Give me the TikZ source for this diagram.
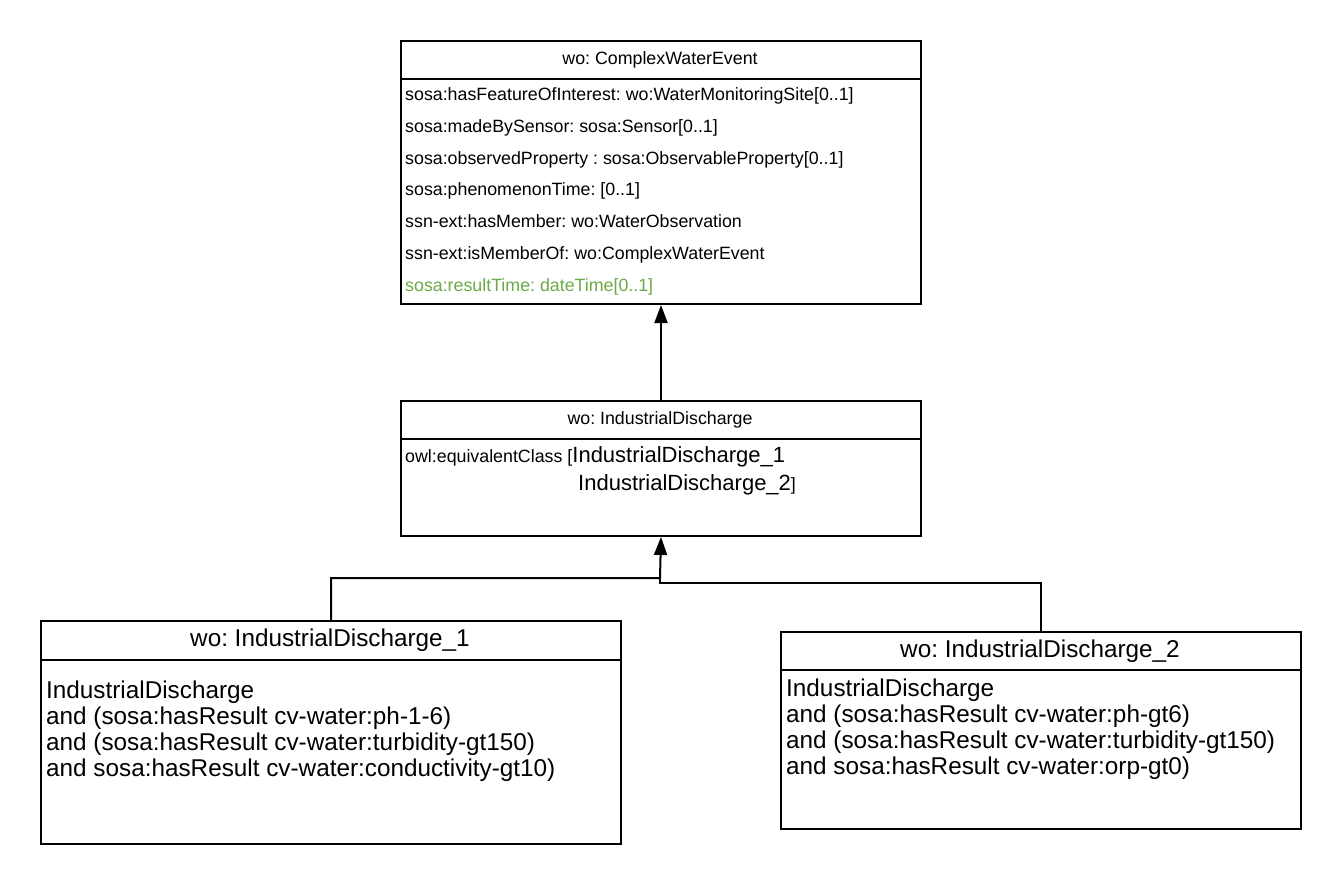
\documentclass[tikz,border=0pt]{standalone}
\usepackage{fontspec}
\setmainfont{Liberation Sans}
\usetikzlibrary{arrows.meta}
\definecolor{rtgreen}{RGB}{108,170,72}
\newcommand{\fsS}{\fontsize{17.8}{21}\selectfont}
\newcommand{\fsM}{\fontsize{22}{26}\selectfont}
\newcommand{\fsL}{\fontsize{24.3}{26}\selectfont}
\frenchspacing
\begin{document}
\begin{tikzpicture}[x=1pt,y=-1pt,
 box/.style={draw, line width=2pt, anchor=north west, inner sep=0pt},
 lbl/.style={anchor=base west, inner sep=0pt},
 ttl/.style={anchor=base, inner sep=0pt},
 conn/.style={line width=2pt},
 gen/.style={line width=2pt, -{Triangle[length=18pt,width=13pt]}}]
\useasboundingbox (0,0) rectangle (1340,884);
\fill[white] (0,0) rectangle (1340,884);

% top class
\node[box, minimum width=520pt, minimum height=263pt] (cwe) at (400,40) {};
\draw[conn] (cwe.north west) ++(0,39) -- ++(520,0);
\node[ttl, font=\fsS] (cwet) at (660,64) {wo: ComplexWaterEvent};
\node[lbl, font=\fsS] (r1) at (405,100) {sosa:hasFeatureOfInterest: wo:WaterMonitoringSite[0..1]};
\node[lbl, font=\fsS] (r2) at (405,132) {sosa:madeBySensor: sosa:Sensor[0..1]};
\node[lbl, font=\fsS] (r3) at (405,164) {sosa:observedProperty : sosa:ObservableProperty[0..1]};
\node[lbl, font=\fsS] (r4) at (405,195) {sosa:phenomenonTime: [0..1]};
\node[lbl, font=\fsS] (r5) at (405,227) {ssn-ext:hasMember: wo:WaterObservation};
\node[lbl, font=\fsS] (r6) at (405,259) {ssn-ext:isMemberOf: wo:ComplexWaterEvent};
\node[lbl, font=\fsS, text=rtgreen] (r7) at (405,291) {sosa:resultTime: dateTime[0..1]};

% middle class
\node[box, minimum width=520pt, minimum height=135pt] (mid) at (400,400) {};
\draw[conn] (mid.north west) ++(0,39) -- ++(520,0);
\node[ttl, font=\fsS] (midt) at (660,424) {wo: IndustrialDischarge};
\node[lbl] (m1) at (405,462) {{\fsS owl:equivalentClass [}{\fsM IndustrialDischarge\_1}};
\node[lbl] (m2) at (578,490) {{\fsM IndustrialDischarge\_2}{\fsS ]}};

% bottom-left class
\node[box, minimum width=580pt, minimum height=223pt] (b1) at (40,620) {};
\draw[conn] (b1.north west) ++(0,40) -- ++(580,0);
\node[ttl, font=\fsL] (b1t) at (330,646) {wo: IndustrialDischarge\_1};
\node[lbl, font=\fsL] (b1a) at (46,698) {IndustrialDischarge};
\node[lbl, font=\fsL] (b1b) at (46,724) {and (sosa:hasResult cv-water:ph-1-6)};
\node[lbl, font=\fsL] (b1c) at (46,750) {and (sosa:hasResult cv-water:turbidity-gt150)};
\node[lbl, font=\fsL] (b1d) at (46,776) {and sosa:hasResult cv-water:conductivity-gt10)};

% bottom-right class
\node[box, minimum width=520pt, minimum height=197pt] (b2) at (780,631) {};
\draw[conn] (b2.north west) ++(0,39) -- ++(520,0);
\node[ttl, font=\fsL] (b2t) at (1040,657) {wo: IndustrialDischarge\_2};
\node[lbl, font=\fsL] (b2a) at (786,696) {IndustrialDischarge};
\node[lbl, font=\fsL] (b2b) at (786,722) {and (sosa:hasResult cv-water:ph-gt6)};
\node[lbl, font=\fsL] (b2c) at (786,748) {and (sosa:hasResult cv-water:turbidity-gt150)};
\node[lbl, font=\fsL] (b2d) at (786,774) {and sosa:hasResult cv-water:orp-gt0)};

% connectors
\coordinate (j1) at (660,578);
\coordinate (j2) at (660,583);
\draw[gen] (mid.north) -- (cwe.south);
\draw[gen] (b1.north) |- (j1) -- (mid.south);
\draw[conn] (b2.north) |- (j2) -- (j1);
\end{tikzpicture}
\end{document}
